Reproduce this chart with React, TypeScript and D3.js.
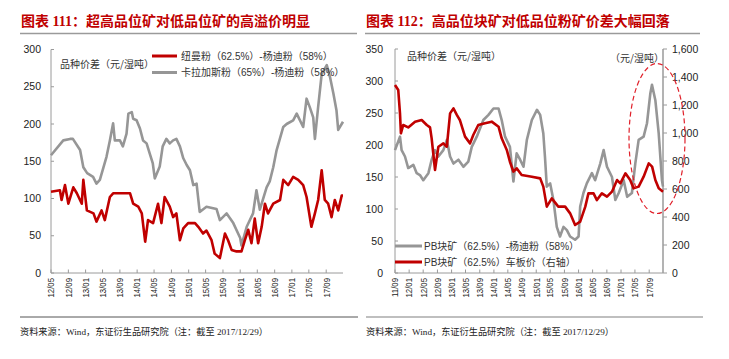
import React from "react";
import * as d3 from "d3";

// ---------- Data ----------
const leftTickLabels = ["12/05","12/09","13/01","13/05","13/09","14/01","14/05","14/09","15/01","15/05","15/09","16/01","16/05","16/09","17/01","17/05","17/09"];
const rightTickLabels = ["11/09","12/01","12/05","12/09","13/01","13/05","13/09","14/01","14/05","14/09","15/01","15/05","15/09","16/01","16/05","16/09","17/01","17/05","17/09"];
const leftYTicks = [0, 50, 100, 150, 200, 250, 300];
const rightLeftYTicks = [0, 50, 100, 150, 200, 250, 300, 350];
const rightRightYTicks = [0, 200, 400, 600, 800, 1000, 1200, 1400, 1600];

// 纽曼粉(62.5%)-杨迪粉(58%)
const newmanSpread: [string, number][] = [
  ["2012-05-01",109],["2012-07-03",111],["2012-07-15",98],["2012-08-08",118],["2012-09-01",93],
  ["2012-10-06",115],["2012-10-31",107],["2012-12-05",93],["2012-12-16",125],["2013-01-10",84],
  ["2013-02-26",80],["2013-03-19",69],["2013-04-24",84],["2013-05-17",71],["2013-06-22",102],
  ["2013-07-15",107],["2013-11-12",107],["2013-12-04",93],["2014-01-09",89],["2014-02-03",80],
  ["2014-02-27",42],["2014-03-19",71],["2014-04-24",67],["2014-05-29",93],["2014-06-22",67],
  ["2014-07-15",102],["2014-08-20",89],["2014-09-13",75],["2014-10-06",80],["2014-10-31",44],
  ["2014-11-24",60],["2014-12-28",67],["2015-02-15",67],["2015-03-10",62],["2015-04-13",53],
  ["2015-05-07",57],["2015-06-12",44],["2015-07-04",26],["2015-08-10",20],["2015-09-15",53],
  ["2015-10-07",44],["2015-11-01",31],["2015-12-06",29],["2016-01-10",29],["2016-02-03",44],
  ["2016-02-27",58],["2016-03-21",40],["2016-04-13",73],["2016-05-07",40],["2016-06-01",62],
  ["2016-06-24",93],["2016-07-16",80],["2016-08-22",93],["2016-10-09",98],["2016-11-01",125],
  ["2016-12-06",118],["2017-01-10",129],["2017-02-15",125],["2017-03-22",118],["2017-04-15",102],
  ["2017-05-19",62],["2017-06-13",80],["2017-07-06",98],["2017-07-31",138],["2017-08-22",98],
  ["2017-09-15",93],["2017-10-09",75],["2017-11-01",98],["2017-11-25",84],["2017-12-20",104],
  ["2017-12-29",104]
];

// 卡拉加斯粉(65%)-杨迪粉(58%)
const carajasSpread: [string, number][] = [
  ["2012-05-01",158],["2012-07-27",178],["2012-09-13",180],["2012-10-03",180],["2012-11-23",165],
  ["2012-12-16",142],["2013-01-12",134],["2013-02-23",129],["2013-03-19",120],["2013-04-12",125],
  ["2013-05-29",156],["2013-06-22",178],["2013-07-15",201],["2013-07-27",178],["2013-09-01",178],
  ["2013-09-22",170],["2013-10-18",187],["2013-10-31",214],["2013-11-24",216],["2013-12-04",207],
  ["2013-12-28",205],["2014-01-21",194],["2014-02-12",178],["2014-03-09",174],["2014-04-01",160],
  ["2014-04-22",147],["2014-05-06",127],["2014-06-10",143],["2014-07-01",170],["2014-07-27",180],
  ["2014-08-20",174],["2014-09-13",178],["2014-10-06",180],["2014-10-31",170],["2014-11-24",154],
  ["2014-12-18",145],["2015-01-10",138],["2015-02-03",118],["2015-02-26",120],["2015-03-20",82],
  ["2015-05-07",89],["2015-07-17",86],["2015-08-10",71],["2015-09-27",80],["2015-11-13",67],
  ["2016-01-01",47],["2016-01-10",37],["2016-02-16",62],["2016-04-01",80],["2016-04-25",111],
  ["2016-05-19",85],["2016-07-06",115],["2016-07-28",123],["2016-08-22",142],["2016-09-15",165],
  ["2016-11-01",196],["2016-11-25",200],["2017-01-10",205],["2017-02-04",214],["2017-03-22",196],
  ["2017-04-15",234],["2017-05-07",223],["2017-06-01",209],["2017-06-13",180],["2017-07-06",223],
  ["2017-07-31",267],["2017-09-05",279],["2017-09-28",263],["2017-10-22",241],["2017-11-13",218],
  ["2017-11-25",192],["2017-12-29",203]
];

// PB块矿(62.5%)-杨迪粉(58%)  (left axis)
const pbLumpSpread: [string, number][] = [
  ["2011-09-01",192],["2011-10-14",213],["2011-10-28",192],["2011-11-26",182],["2011-12-24",164],
  ["2012-02-06",169],["2012-03-06",156],["2012-04-03",153],["2012-05-02",145],["2012-06-15",156],
  ["2012-07-13",177],["2012-08-11",192],["2012-09-09",182],["2012-10-22",192],["2012-11-21",208],
  ["2012-12-19",182],["2013-01-17",171],["2013-03-01",177],["2013-04-13",166],["2013-05-25",174],
  ["2013-06-24",197],["2013-08-06",213],["2013-10-02",239],["2013-11-15",247],["2013-12-28",257],
  ["2014-02-10",257],["2014-03-09",239],["2014-04-07",213],["2014-05-19",197],["2014-06-18",143],
  ["2014-07-16",187],["2014-08-15",177],["2014-09-13",166],["2014-10-12",208],["2014-11-24",239],
  ["2015-01-07",255],["2015-02-04",247],["2015-03-03",218],["2015-03-17",182],["2015-04-02",135],
  ["2015-05-01",140],["2015-05-29",114],["2015-06-27",72],["2015-07-25",57],["2015-08-24",72],
  ["2015-09-22",67],["2015-10-20",57],["2015-12-02",52],["2016-01-01",57],["2016-01-15",104],
  ["2016-02-12",125],["2016-03-12",140],["2016-04-25",156],["2016-05-23",145],["2016-07-06",171],
  ["2016-08-04",192],["2016-09-02",166],["2016-10-15",150],["2016-11-13",114],["2016-12-12",125],
  ["2017-01-24",145],["2017-02-23",119],["2017-04-05",125],["2017-05-04",171],["2017-06-02",208],
  ["2017-07-15",213],["2017-08-13",234],["2017-09-11",281],["2017-09-25",294],["2017-10-24",270],
  ["2017-11-22",218],["2017-12-20",145],["2017-12-29",135]
];

// PB块矿(62.5%)车板价 (right axis)
const pbLumpPrice: [string, number][] = [
  ["2011-09-01",1343],["2011-09-29",1307],["2011-10-14",1140],["2011-10-22",998],["2011-11-11",1057],
  ["2011-12-24",1040],["2012-02-21",1081],["2012-04-18",1093],["2012-06-01",1057],["2012-06-29",1040],
  ["2012-07-13",962],["2012-08-11",736],["2012-09-09",902],["2012-10-22",926],["2012-11-21",902],
  ["2012-12-19",1140],["2013-01-17",1176],["2013-02-15",1129],["2013-03-13",1093],["2013-04-27",974],
  ["2013-06-09",926],["2013-07-07",986],["2013-08-19",1057],["2013-10-16",1069],["2013-12-13",1081],
  ["2014-02-10",1045],["2014-03-09",962],["2014-04-22",879],["2014-05-19",795],["2014-06-18",724],
  ["2014-07-16",748],["2014-08-28",700],["2014-11-24",688],["2015-02-04",676],["2015-03-03",617],
  ["2015-04-02",474],["2015-05-15",533],["2015-07-10",474],["2015-09-07",474],["2015-10-20",426],
  ["2015-12-02",343],["2016-01-15",367],["2016-02-28",474],["2016-03-26",569],["2016-05-09",569],
  ["2016-06-07",521],["2016-07-20",569],["2016-09-02",545],["2016-10-15",581],["2016-11-28",664],
  ["2016-12-26",640],["2017-02-08",712],["2017-03-21",664],["2017-04-19",605],["2017-06-02",617],
  ["2017-07-15",688],["2017-08-28",783],["2017-09-26",760],["2017-10-24",664],["2017-11-22",605],
  ["2017-12-29",581]
];

// ---------- Styles ----------
const RED = "#C00000";
const GRAY = "#969696";
const AXIS = "#9a9a9a";
const SANS = "'Liberation Sans', Arial, 'Noto Sans CJK SC', sans-serif";
const CJK = "'Noto Sans CJK SC', sans-serif";
const SERIF = "'Liberation Serif', 'Noto Sans CJK SC', serif";

const parse = d3.timeParse("%Y-%m-%d");
const labelDate = (s: string) => new Date(2000 + +s.slice(0, 2), +s.slice(3) - 1, 1);

export default function App() {
  // left chart scales
  const xL = d3.scaleTime().domain([new Date(2012, 4, 1), new Date(2017, 11, 29)]).range([51, 343]);
  const yL = d3.scaleLinear().domain([0, 300]).range([273, 49.5]);
  // right chart scales
  const xR = d3.scaleTime().domain([new Date(2011, 8, 1), new Date(2017, 11, 29)]).range([395, 663]);
  const yRL = d3.scaleLinear().domain([0, 350]).range([273, 49]);
  const yRR = d3.scaleLinear().domain([0, 1600]).range([273, 49]);

  const lineL = d3.line<[string, number]>().x(d => xL(parse(d[0])!)).y(d => yL(d[1]));
  const lineRL = d3.line<[string, number]>().x(d => xR(parse(d[0])!)).y(d => yRL(d[1]));
  const lineRR = d3.line<[string, number]>().x(d => xR(parse(d[0])!)).y(d => yRR(d[1]));
  const fmt = d3.format(",");

  const xLabel = (x: number, lab: string) => (
    <g key={lab}>
      <line x1={x} x2={x} y1={273} y2={269.5} stroke={AXIS} />
      <text transform={`translate(${x},278) rotate(-90) scale(0.82,1)`} textAnchor="end" dy="0.35em"
        fontSize={9.5} fontFamily={SANS} fill="#222">{lab}</text>
    </g>
  );

  return (
    <div style={{ position: "absolute", left: 0, top: 0 }}>
      <svg width={729} height={359} style={{ display: "block", background: "#fff" }}>
        {/* ================= LEFT CHART ================= */}
        <text x={21} y={26} fill={RED} fontSize={14} fontWeight="bold" fontFamily={SERIF}>图表 111：超高品位矿对低品位矿的高溢价明显</text>
        <line x1={20} x2={357} y1={33.5} y2={33.5} stroke="#9a9a9a" strokeWidth={1.5} />

        {leftYTicks.map(v => (
          <g key={"ly" + v}>
            <text x={41} y={yL(v)} dy="0.35em" textAnchor="end" fontSize={10.5} fontFamily={SANS} fill="#222">{v}</text>
            <line x1={51} x2={54} y1={yL(v)} y2={yL(v)} stroke={AXIS} />
          </g>
        ))}
        <line x1={51} x2={51} y1={49.5} y2={273} stroke={AXIS} />
        <line x1={51} x2={343} y1={273} y2={273} stroke={AXIS} />
        {leftTickLabels.map(l => xLabel(xL(labelDate(l)), l))}

        <text x={60} y={68} fontSize={10} fontFamily={CJK} fill="#333">品种价差（元/湿吨）</text>

        <path d={lineL(carajasSpread) || ""} fill="none" stroke={GRAY} strokeWidth={2.6} strokeLinejoin="round" />
        <path d={lineL(newmanSpread) || ""} fill="none" stroke={RED} strokeWidth={2.6} strokeLinejoin="round" />

        <line x1={152} x2={177} y1={56} y2={56} stroke={RED} strokeWidth={3} />
        <text x={181} y={59.5} fontSize={10} fontFamily={SANS} fill="#333">纽曼粉（62.5%）-杨迪粉（58%）</text>
        <line x1={152} x2={177} y1={72.5} y2={72.5} stroke={GRAY} strokeWidth={3} />
        <text x={181} y={76} fontSize={10} fontFamily={SANS} fill="#333">卡拉加斯粉（65%）-杨迪粉（58%）</text>

        <line x1={20} x2={358} y1={317} y2={317} stroke="#555" strokeWidth={1} />
        <text x={20} y={335} fontSize={9.2} fontFamily={SERIF} fill="#222">资料来源：Wind，东证衍生品研究院（注：截至 2017/12/29）</text>

        {/* ================= RIGHT CHART ================= */}
        <text x={366} y={26} fill={RED} fontSize={14} fontWeight="bold" fontFamily={SERIF}>图表 112：高品位块矿对低品位粉矿价差大幅回落</text>
        <line x1={365} x2={700} y1={33.5} y2={33.5} stroke="#9a9a9a" strokeWidth={1.5} />

        {rightLeftYTicks.map(v => (
          <g key={"rly" + v}>
            <text x={383} y={yRL(v)} dy="0.35em" textAnchor="end" fontSize={10.5} fontFamily={SANS} fill="#222">{v}</text>
            <line x1={395} x2={398} y1={yRL(v)} y2={yRL(v)} stroke={AXIS} />
          </g>
        ))}
        {rightRightYTicks.map(v => (
          <g key={"rry" + v}>
            <text x={672} y={yRR(v)} dy="0.35em" textAnchor="start" fontSize={10.5} fontFamily={SANS} fill="#222">{fmt(v)}</text>
            <line x1={663} x2={667} y1={yRR(v)} y2={yRR(v)} stroke={AXIS} />
          </g>
        ))}
        <line x1={395} x2={395} y1={49} y2={273} stroke={AXIS} />
        <line x1={663} x2={663} y1={49} y2={273} stroke={AXIS} strokeWidth={1.5} />
        <line x1={395} x2={663} y1={273} y2={273} stroke={AXIS} />
        {rightTickLabels.map(l => xLabel(xR(labelDate(l)), l))}

        <text x={407} y={60} fontSize={10} fontFamily={CJK} fill="#333">品种价差（元/湿吨）</text>
        <text x={610} y={62} fontSize={10} fontFamily={CJK} fill="#333">（元/湿吨）</text>

        <path d={lineRL(pbLumpSpread) || ""} fill="none" stroke={GRAY} strokeWidth={2.6} strokeLinejoin="round" />
        <path d={lineRR(pbLumpPrice) || ""} fill="none" stroke={RED} strokeWidth={2.6} strokeLinejoin="round" />

        <ellipse cx={657} cy={138.5} rx={28} ry={75} fill="none" stroke="#E0202A" strokeWidth={1.2} strokeDasharray="5,3" />

        <line x1={395} x2={422} y1={246} y2={246} stroke={GRAY} strokeWidth={3} />
        <text x={424} y={249.5} fontSize={10} fontFamily={SANS} fill="#333">PB块矿（62.5%）-杨迪粉（58%）</text>
        <line x1={395} x2={422} y1={262} y2={262} stroke={RED} strokeWidth={3} />
        <text x={424} y={265.5} fontSize={10} fontFamily={SANS} fill="#333">PB块矿（62.5%）车板价（右轴）</text>

        <line x1={366} x2={703} y1={317} y2={317} stroke="#aaa" strokeWidth={1.6} />
        <text x={366} y={335} fontSize={9.2} fontFamily={SERIF} fill="#222">资料来源：Wind，东证衍生品研究院（注：截至 2017/12/29）</text>
      </svg>
    </div>
  );
}
